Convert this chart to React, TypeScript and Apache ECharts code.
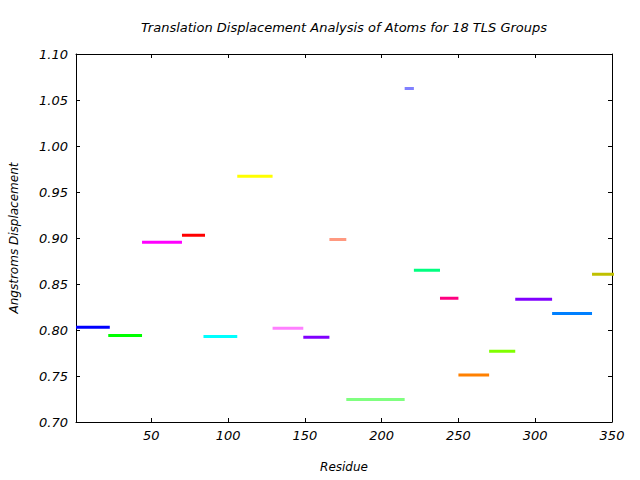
import React, { useEffect, useRef } from "react";
import * as echarts from "echarts";

const groupStarts = [1, 22, 44, 70, 84, 106, 129, 149, 166, 177, 215, 221, 238, 250, 270, 287, 311, 337];
const groupEnds = [23, 44, 70, 85, 106, 129, 149, 166, 177, 215, 221, 238, 250, 270, 287, 311, 337, 360];
const displacements = [0.803, 0.794, 0.8955, 0.903, 0.793, 0.967, 0.802, 0.792, 0.8985, 0.7245, 1.0625, 0.865, 0.8345, 0.751, 0.777, 0.8335, 0.818, 0.8605];
const groupColors = [
  "#0000ff", "#00ff00", "#ff00ff", "#ff0000", "#00ffff", "#ffff00",
  "#ff80ff", "#8000ff", "#ff9980", "#80ff80", "#8080ff", "#00ff80",
  "#ff0080", "#ff8000", "#80ff00", "#8000ff", "#0080ff", "#c0c000",
];
const xTickValues = [50, 100, 150, 200, 250, 300, 350];

const FONT = "'DejaVu Sans', Verdana, sans-serif";

export default function App() {
  const ref = useRef<HTMLDivElement>(null);
  useEffect(() => {
    document.body.style.margin = "0";
    if (!ref.current) return;
    const chart = echarts.init(ref.current, null, { renderer: "svg" });
    const nameStyle = { fontFamily: FONT, fontStyle: "italic" as const, fontSize: 12, color: "#000" };
    const tickStyle = { fontFamily: FONT, fontStyle: "italic" as const, fontSize: 13, color: "#000" };
    const series = displacements.map((v, i) => ({
      type: "line" as const,
      data: [
        [groupStarts[i], v],
        [groupEnds[i], v],
      ],
      xAxisIndex: 0,
      yAxisIndex: 0,
      showSymbol: false,
      symbol: "none",
      clip: true,
      lineStyle: { color: groupColors[i], width: 3, cap: "butt" as const },
      z: 5,
    }));
    chart.setOption({
      animation: false,
      backgroundColor: "#fff",
      grid: { left: 76, right: 28, top: 54, bottom: 58, containLabel: false },
      graphic: [
        {
          type: "text",
          x: 344,
          y: 27,
          style: {
            text: "Translation Displacement Analysis of Atoms for 18 TLS Groups",
            font: `italic 13px ${FONT}`,
            fill: "#000",
            textAlign: "center",
            textVerticalAlign: "middle",
          },
        },
      ],
      xAxis: [
        {
          type: "value",
          position: "bottom",
          min: 1,
          max: 350,
          name: "Residue",
          nameLocation: "middle",
          nameGap: 39,
          nameTextStyle: nameStyle,
          axisLine: { show: true, onZero: false, lineStyle: { color: "#000", width: 1 } },
          axisTick: { show: true, inside: true, length: 4, customValues: xTickValues, lineStyle: { color: "#000" } },
          axisLabel: { show: true, customValues: xTickValues, margin: 7, ...tickStyle },
          splitLine: { show: false },
        },
        {
          type: "value",
          position: "top",
          min: 1,
          max: 350,
          axisLine: { show: true, onZero: false, lineStyle: { color: "#000", width: 1 } },
          axisTick: { show: true, inside: true, length: 4, customValues: xTickValues, lineStyle: { color: "#000" } },
          axisLabel: { show: false },
          splitLine: { show: false },
        },
      ],
      yAxis: [
        {
          type: "value",
          position: "left",
          min: 0.7,
          max: 1.1,
          interval: 0.05,
          name: "Angstroms Displacement",
          nameLocation: "middle",
          nameRotate: 90,
          nameGap: 56,
          nameTextStyle: nameStyle,
          axisLine: { show: true, onZero: false, lineStyle: { color: "#000", width: 1 } },
          axisTick: { show: true, inside: true, length: 4, lineStyle: { color: "#000" } },
          axisLabel: { show: true, margin: 8, formatter: (v: number) => v.toFixed(2), ...tickStyle },
          splitLine: { show: false },
        },
        {
          type: "value",
          position: "right",
          min: 0.7,
          max: 1.1,
          interval: 0.05,
          axisLine: { show: true, onZero: false, lineStyle: { color: "#000", width: 1 } },
          axisTick: { show: true, inside: true, length: 4, lineStyle: { color: "#000" } },
          axisLabel: { show: false },
          splitLine: { show: false },
        },
      ],
      series,
    });
    return () => chart.dispose();
  }, []);
  return <div ref={ref} style={{ width: 640, height: 480, position: "absolute", left: 0, top: 0 }} />;
}
